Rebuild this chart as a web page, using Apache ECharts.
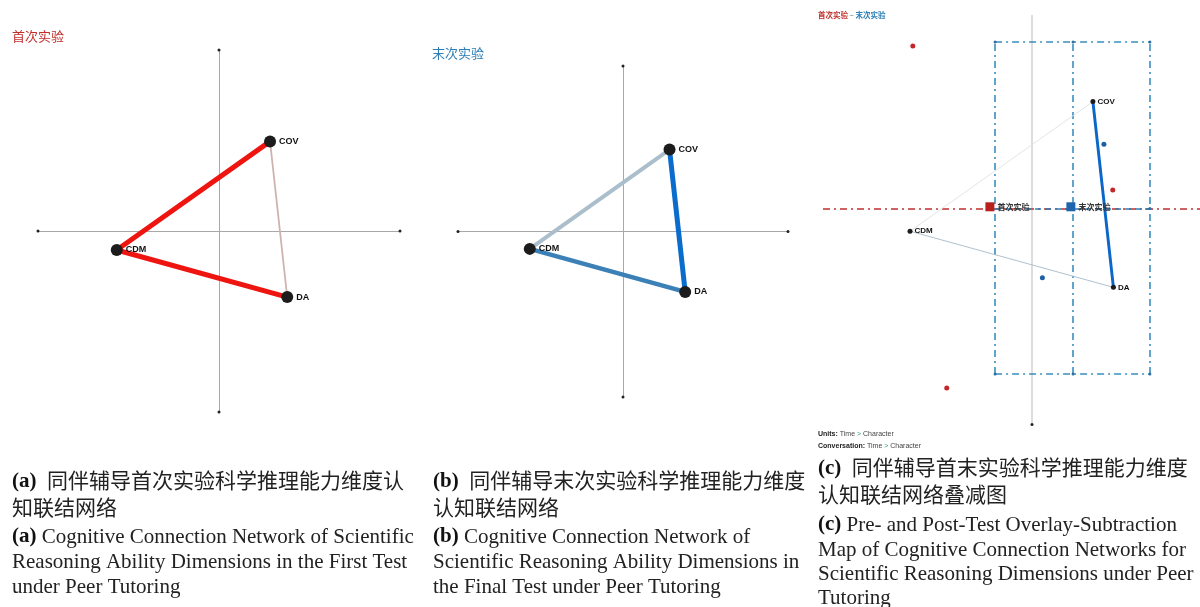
<!DOCTYPE html>
<html>
<head>
<meta charset="utf-8">
<style>
  html, body { margin: 0; padding: 0; background: #fff; }
  #chart { width: 1200px; height: 607px; }
</style>
<script src="https://cdn.jsdelivr.net/npm/echarts@6/dist/echarts.min.js"></script>
</head>
<body>
<div id="chart"></div>
<script>
// ---- network data (ENA projection space) ----
const nodeNames = ['COV', 'CDM', 'DA'];
const nodeX = [0.282, -0.565, 0.377];
const nodeY = [0.495, -0.105, -0.365];

// edges as index pairs into nodeNames
const edgeFrom = [0, 1, 0];
const edgeTo   = [1, 2, 2];

// connection strengths per edge
const firstWeights = [1.0, 1.0, 0.35];
const finalWeights = [0.8, 0.9, 1.0];
const diffWeights  = [0.2, 0.1, -0.65];

// subtraction plot: unit points, group means, confidence boxes
const firstPointsX = [-0.552, 0.374, -0.395];
const firstPointsY = [0.752, 0.086, -0.831];
const finalPointsX = [0.333, 0.048];
const finalPointsY = [0.297, -0.320];
const groupNames = ['首次实验', '末次实验'];
const meanX = [-0.195, 0.18];
const meanY = [0.008, 0.008];
const boxX = [-0.171, 0.19, 0.546];
const boxY = [-0.766, 0.771];

// visible extent of the subtraction plot axes
const diffXRange = [-0.968, 0.778];
const diffYRange = [-1.0, 0.896];

// ---- styles ----
const SANS = "'Liberation Sans', Arial, 'Noto Sans CJK SC', sans-serif";
const CJK = "'Noto Sans CJK SC', 'Liberation Sans', sans-serif";
const SERIF = "'Liberation Serif', 'Noto Sans CJK SC', serif";
const firstEdgeColors = ['#ee1410', '#ee1410', '#cdb2ae'];
const finalEdgeColors = ['#aabecb', '#3b80b6', '#0a6ccd'];
const diffEdgeColors  = ['#dde2e6', '#a6bac9', '#0a66c8'];
const RED = '#c0302c';
const BLUE = '#2a7db5';

const chart = echarts.init(document.getElementById('chart'), null, { renderer: 'canvas' });

const grids = [
  { left: 38, top: 50, width: 362, height: 362 },
  { left: 458, top: 66, width: 330, height: 331 },
  { left: 823, top: 15, width: 377, height: 409.5 }
].map(g => Object.assign({ outerBoundsMode: 'none', containLabel: false }, g));

const xAxes = [
  { min: -1, max: 1 }, { min: -1, max: 1 }, { min: diffXRange[0], max: diffXRange[1] }
].map((r, i) => Object.assign({ type: 'value', gridIndex: i, show: false }, r));
const yAxes = [
  { min: -1, max: 1 }, { min: -1, max: 1 }, { min: diffYRange[0], max: diffYRange[1] }
].map((r, i) => Object.assign({ type: 'value', gridIndex: i, show: false }, r));

function onGrid(i, s) {
  return Object.assign({ xAxisIndex: i, yAxisIndex: i, silent: true, animation: false }, s);
}

function edgeData(weights, colors, widthFn) {
  return edgeFrom.map((f, k) => ({
    coords: [[nodeX[f], nodeY[f]], [nodeX[edgeTo[k]], nodeY[edgeTo[k]]]],
    value: weights[k],
    lineStyle: { color: colors[k], width: widthFn(weights[k]), opacity: 1 }
  }));
}

function nodeData() {
  return nodeNames.map((n, k) => [nodeX[k], nodeY[k], n]);
}

function crossAxes(i, color, ends) {
  return [
    onGrid(i, {
      type: 'lines', coordinateSystem: 'cartesian2d', z: 1,
      lineStyle: { color: color, width: 1, opacity: 1 },
      data: [{ coords: [[-1, 0], [1, 0]] }, { coords: [[0, -1], [0, 1]] }]
    }),
    onGrid(i, {
      type: 'scatter', z: 2, symbolSize: 3,
      itemStyle: { color: '#222', opacity: 1 },
      data: ends
    })
  ];
}

function nodes(i, size, fontSize, dist) {
  return onGrid(i, {
    type: 'scatter', z: 10, symbolSize: size,
    itemStyle: { color: '#1c1c1c', opacity: 1 },
    label: {
      show: true, position: 'right', distance: dist,
      formatter: p => p.value[2],
      fontFamily: SANS, fontWeight: 'bold', fontSize: fontSize, color: '#111'
    },
    data: nodeData()
  });
}

const series = [];

// (a) first test network
series.push(...crossAxes(0, '#a8a8a8', [[-1, 0], [1, 0], [0, -1], [0, 1]]));
series.push(onGrid(0, {
  type: 'lines', coordinateSystem: 'cartesian2d', z: 5,
  data: edgeData(firstWeights, firstEdgeColors, w => 5 * w)
}));
series.push(nodes(0, 12, 9, 3));

// (b) final test network
series.push(...crossAxes(1, '#a8a8a8', [[-1, 0], [1, 0], [0, -1], [0, 1]]));
series.push(onGrid(1, {
  type: 'lines', coordinateSystem: 'cartesian2d', z: 5,
  data: edgeData(finalWeights, finalEdgeColors, w => 5 * w)
}));
series.push(nodes(1, 12, 9, 3));

// (c) subtraction network
series.push(onGrid(2, {
  type: 'lines', coordinateSystem: 'cartesian2d', z: 1,
  lineStyle: { color: '#d2d2d2', width: 1.5, opacity: 1 },
  data: [{ coords: [[0, diffYRange[0]], [0, diffYRange[1]]] }]
}));
series.push(onGrid(2, {
  type: 'scatter', z: 2, symbolSize: 3, itemStyle: { color: '#222', opacity: 1 },
  data: [[0, diffYRange[0]]]
}));
// group separation axis
series.push(onGrid(2, {
  type: 'lines', coordinateSystem: 'cartesian2d', z: 2,
  lineStyle: { color: RED, width: 1.5, type: [7, 4, 2, 4], opacity: 1 },
  data: [{ coords: [[diffXRange[0], 0], [diffXRange[1], 0]] }]
}));
series.push(onGrid(2, {
  type: 'lines', coordinateSystem: 'cartesian2d', z: 3,
  lineStyle: { color: BLUE, width: 1.5, type: [6, 4], opacity: 1 },
  data: [{ coords: [[boxX[0], 0], [boxX[2], 0]] }]
}));
// confidence boxes
const boxSegs = [
  [[boxX[0], boxY[1]], [boxX[2], boxY[1]]],
  [[boxX[0], boxY[0]], [boxX[2], boxY[0]]],
  [[boxX[0], boxY[0]], [boxX[0], boxY[1]]],
  [[boxX[1], boxY[0]], [boxX[1], boxY[1]]],
  [[boxX[2], boxY[0]], [boxX[2], boxY[1]]]
];
series.push(onGrid(2, {
  type: 'lines', coordinateSystem: 'cartesian2d', z: 3,
  lineStyle: { color: '#3a8ebf', width: 1.6, type: [7, 4, 2, 4], opacity: 1 },
  data: boxSegs.map(c => ({ coords: c }))
}));
series.push(onGrid(2, {
  type: 'scatter', z: 4, symbolSize: 3, itemStyle: { color: '#2a6f9f', opacity: 1 },
  data: boxX.flatMap(x => boxY.map(y => [x, y])).concat([[boxX[2], 0]])
}));
// edges
series.push(onGrid(2, {
  type: 'lines', coordinateSystem: 'cartesian2d', z: 5,
  data: edgeData(diffWeights, diffEdgeColors, w => Math.max(0.9, 4.5 * Math.abs(w)))
}));
// unit points
series.push(onGrid(2, {
  type: 'scatter', z: 6, symbolSize: 5, itemStyle: { color: '#c4262a', opacity: 1 },
  data: firstPointsX.map((x, k) => [x, firstPointsY[k]])
}));
series.push(onGrid(2, {
  type: 'scatter', z: 6, symbolSize: 5, itemStyle: { color: '#1f5fa8', opacity: 1 },
  data: finalPointsX.map((x, k) => [x, finalPointsY[k]])
}));
// group means
const meanColors = ['#b8201e', '#1f65ad'];
series.push(onGrid(2, {
  type: 'scatter', z: 7, symbol: 'rect', symbolSize: 9,
  data: meanX.map((x, k) => ({
    value: [x, meanY[k], groupNames[k]],
    itemStyle: { color: meanColors[k], opacity: 1 }
  })),
  label: {
    show: true, position: 'right', distance: 3,
    formatter: p => p.value[2],
    fontFamily: CJK, fontSize: 8, fontWeight: 'bold', color: '#333'
  }
}));
series.push(nodes(2, 5, 8, 2));

// ---- text: panel titles, footnotes, captions ----
const graphics = [];
function txt(x, y, text, extra) {
  graphics.push({
    type: 'text', x: x, y: y, silent: true,
    style: Object.assign({ text: text, verticalAlign: 'middle', align: 'left' }, extra)
  });
}

txt(12, 36, '首次实验', { fill: RED, fontSize: 13, fontFamily: CJK });
txt(432, 53, '末次实验', { fill: BLUE, fontSize: 13, fontFamily: CJK });
txt(818, 15, '{r|首次实验} {d|–} {b|末次实验}', {
  fontSize: 7.5, fontFamily: CJK,
  rich: {
    r: { fill: RED, fontSize: 7.5, fontFamily: CJK, fontWeight: 'bold' },
    d: { fill: '#555', fontSize: 7.5, fontFamily: CJK },
    b: { fill: BLUE, fontSize: 7.5, fontFamily: CJK, fontWeight: 'bold' }
  }
});
const noteRich = {
  k: { fill: '#222', fontSize: 7, fontFamily: SANS, fontWeight: 'bold' },
  t: { fill: '#444', fontSize: 7, fontFamily: SANS },
  g: { fill: '#2a9d7f', fontSize: 7, fontFamily: SANS }
};
txt(818, 434, '{k|Units:} {t|Time} {g|>} {t|Character}', { rich: noteRich, fontSize: 7 });
txt(818, 446, '{k|Conversation:} {t|Time} {g|>} {t|Character}', { rich: noteRich, fontSize: 7 });

const capRich = {
  b: { fontFamily: SERIF, fontWeight: 'bold', fontSize: 21, fill: '#111' },
  n: { fontFamily: SERIF, fontSize: 21, fill: '#222' }
};
function cap(x, y, text) {
  txt(x, y, text, { rich: capRich, fontSize: 21, fontFamily: SERIF, fill: '#222' });
}

cap(12, 482, '{b|(a)}  {n|同伴辅导首次实验科学推理能力维度认}');
cap(12, 509, '{n|知联结网络}');
cap(12, 537, '{b|(a)} {n|Cognitive Connection Network of Scientific}');
cap(12, 562, '{n|Reasoning Ability Dimensions in the First Test}');
cap(12, 587, '{n|under Peer Tutoring}');

cap(433, 482, '{b|(b)}  {n|同伴辅导末次实验科学推理能力维度}');
cap(433, 509, '{n|认知联结网络}');
cap(433, 537, '{b|(b)} {n|Cognitive Connection Network of}');
cap(433, 562, '{n|Scientific Reasoning Ability Dimensions in}');
cap(433, 587, '{n|the Final Test under Peer Tutoring}');

cap(818, 469, '{b|(c)}  {n|同伴辅导首末实验科学推理能力维度}');
cap(818, 496, '{n|认知联结网络叠减图}');
cap(818, 525, '{b|(c)} {n|Pre- and Post-Test Overlay-Subtraction}');
cap(818, 550, '{n|Map of Cognitive Connection Networks for}');
cap(818, 574, '{n|Scientific Reasoning Dimensions under Peer}');
cap(818, 598, '{n|Tutoring}');

chart.setOption({
  backgroundColor: '#ffffff',
  animation: false,
  grid: grids,
  xAxis: xAxes,
  yAxis: yAxes,
  series: series,
  graphic: graphics
});
</script>
</body>
</html>
